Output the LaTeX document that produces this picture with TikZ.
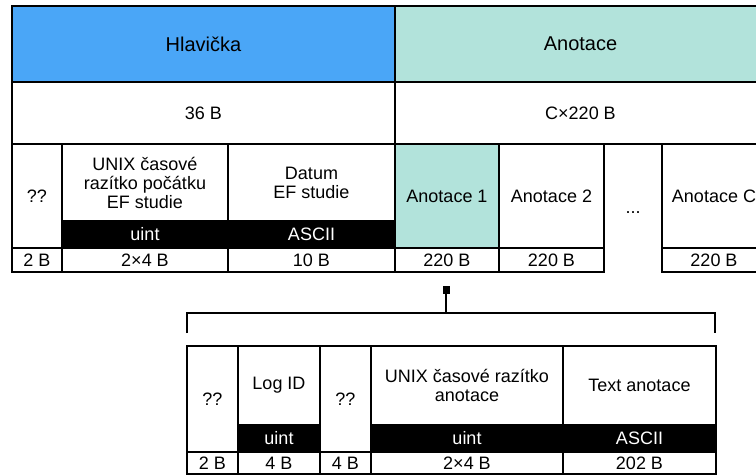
\documentclass[tikz,border=0pt]{standalone}
\usepackage{fontspec}
\setmainfont{Liberation Sans}
\definecolor{mblue}{rgb}{0.29, 0.65, 0.97}
\definecolor{mteal}{rgb}{0.70, 0.89, 0.86}
\tikzset{cell/.style = {draw, line width=1.4pt, anchor=north west, inner sep=0pt,
                        outer sep=0pt, align=center, font=\fontsize{18}{19}\selectfont},
         band/.style = {cell, fill=black, text=white}}
\begin{document}
\begin{tikzpicture}[x=1pt, y=-1pt]
    \clip (0, 0) rectangle (756, 476);
    \node [cell, fill=mblue, minimum width=383pt, minimum height=76pt,
           font=\fontsize{20}{22}\selectfont] (hlav) at (12, 6) {Hlavička};
    \node [cell, fill=mteal, minimum width=371pt, minimum height=76pt,
           font=\fontsize{20}{22}\selectfont] (anot) at (395, 6) {Anotace};
    \node [cell, minimum width=383pt, minimum height=62pt] (hlavsz) at (12, 82) {36 B};
    \node [cell, minimum width=371pt, minimum height=62pt] (anotsz) at (395, 82) {C×220 B};
    % header fields
    \node [cell, minimum width=50pt, minimum height=104pt] (hq) at (12, 144) {??};
    \node [cell, minimum width=166pt, minimum height=77pt] (hunix) at (62, 144) {UNIX časové\\razítko počátku\\EF studie};
    \node [cell, minimum width=167pt, minimum height=77pt] (hdatum) at (228, 144) {Datum\\EF studie};
    \node [band, minimum width=166pt, minimum height=27pt] (hunixt) at (62, 221) {uint};
    \node [band, minimum width=167pt, minimum height=27pt] (hdatumt) at (228, 221) {ASCII};
    \node [cell, fill=mteal, minimum width=104pt, minimum height=104pt] (a1) at (395, 144) {Anotace 1};
    \node [cell, minimum width=105pt, minimum height=104pt] (a2) at (499, 144) {Anotace 2};
    \node [font=\fontsize{18}{19}\selectfont] (dots) at (633, 213) {...};
    \node [cell, minimum width=104pt, minimum height=104pt] (ac) at (662, 144) {Anotace C};
    \foreach \n/\xa/\xb/\t in {1/12/62/2 B, 2/62/228/2×4 B, 3/228/395/10 B,
                               4/395/499/220 B, 5/499/604/220 B, 6/662/766/220 B} {
      \node [cell, minimum width={(\xb-\xa)*1pt}, minimum height=24pt] (hs\n) at (\xa, 248) {\t};
    }
    % bracket
    \node [fill=black, inner sep=0pt, minimum width=7pt, minimum height=8pt] (sq) at (446, 290) {};
    \coordinate (brtop) at (446, 313);
    \coordinate (brl) at (187, 333);
    \coordinate (brr) at (715, 333);
    \draw [line width=1.4pt] (sq.south) -- (brtop);
    \draw [line width=1.4pt] (brl) |- (brtop) -| (brr);
    % annotation fields
    \node [cell, minimum width=51pt, minimum height=106pt] (aq1) at (187, 346) {??};
    \node [cell, minimum width=82pt, minimum height=79pt] (alog) at (238, 346) {Log ID};
    \node [cell, minimum width=51pt, minimum height=106pt] (aq2) at (320, 346) {??};
    \node [cell, minimum width=192pt, minimum height=79pt] (aunix) at (371, 346) {UNIX časové razítko\\anotace};
    \node [cell, minimum width=153pt, minimum height=79pt] (atext) at (563, 346) {Text anotace};
    \node [band, minimum width=82pt, minimum height=27pt] (alogt) at (238, 425) {uint};
    \node [band, minimum width=192pt, minimum height=27pt] (aunixt) at (371, 425) {uint};
    \node [band, minimum width=153pt, minimum height=27pt] (atextt) at (563, 425) {ASCII};
    \foreach \n/\xa/\xb/\t in {1/187/238/2 B, 2/238/320/4 B, 3/320/371/4 B,
                               4/371/563/2×4 B, 5/563/716/202 B} {
      \node [cell, minimum width={(\xb-\xa)*1pt}, minimum height=22pt] (as\n) at (\xa, 452) {\t};
    }
\end{tikzpicture}
\end{document}
